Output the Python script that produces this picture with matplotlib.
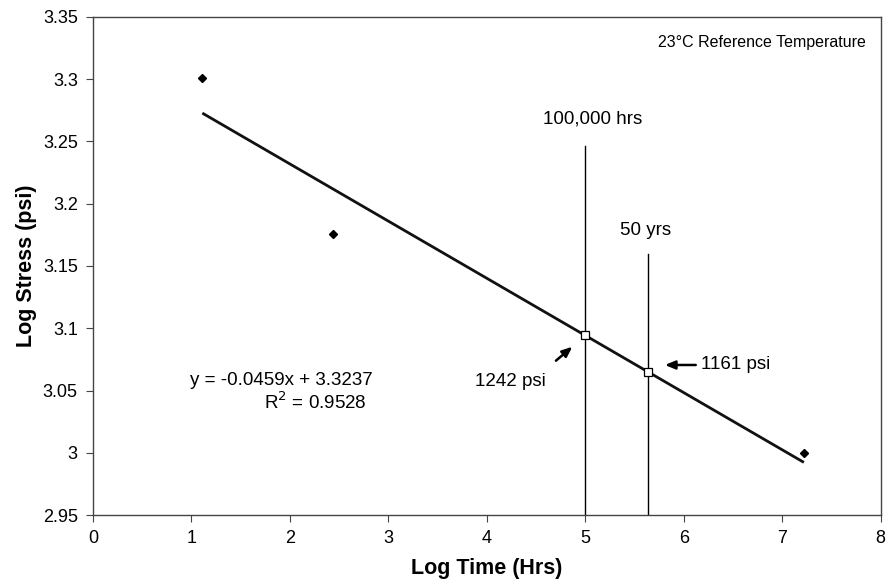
import numpy as np
import matplotlib
matplotlib.use("Agg")
import matplotlib.pyplot as plt

plt.rcParams['font.family'] = ['Liberation Sans', 'DejaVu Sans']

# measured points (log time, log stress)
log_time = [1.11, 2.44, 7.22]
log_stress = [3.301, 3.176, 3.0]

# trendline from the chart label
slope = -0.0459
intercept = 3.3237

# design points
design_x = [5.0, 5.6415]
design_y = [3.0942, 3.0648]
design_labels = ['1242 psi', '1161 psi']
line_tops = [3.246, 3.160]
line_labels = ['100,000 hrs', '50 yrs']

xticks = [0, 1, 2, 3, 4, 5, 6, 7, 8]
yticks = [2.95, 3.0, 3.05, 3.1, 3.15, 3.2, 3.25, 3.3, 3.35]
ytick_labels = ['2.95', '3', '3.05', '3.1', '3.15', '3.2', '3.25', '3.3', '3.35']

fig = plt.figure(figsize=(8.86, 5.82), dpi=100)
ax = fig.add_axes([0.105, 0.115, 0.889, 0.856])

# vertical marker lines
for x, top in zip(design_x, line_tops):
    ax.plot([x, x], [2.95, top], color='black', lw=1.0)
ax.text(5.07, 3.2677, line_labels[0], ha='center', va='center', fontsize=13.5)
ax.text(5.61, 3.1784, line_labels[1], ha='center', va='center', fontsize=13.5)

# trendline
tx = np.array([min(log_time), max(log_time)])
ax.plot(tx, slope * tx + intercept, color='#111111', lw=2.0, solid_capstyle='butt')

# data
ax.plot(log_time, log_stress, 'D', color='black', ms=4.5, ls='none')
ax.plot(design_x, design_y, 's', mfc='white', mec='black', mew=0.9, ms=5.5, ls='none')

# arrows
ax.annotate('', xy=(4.89, 3.0866), xytext=(4.68, 3.0725),
            arrowprops=dict(arrowstyle='-|>,head_length=0.6,head_width=0.25', color='black', lw=1.8))
ax.text(4.6, 3.0575, design_labels[0], ha='right', va='center', fontsize=13.5)
ax.annotate('', xy=(5.78, 3.0705), xytext=(6.15, 3.0705),
            arrowprops=dict(arrowstyle='-|>,head_length=0.6,head_width=0.25', color='black', lw=1.8))
ax.text(6.18, 3.0712, design_labels[1], ha='left', va='center', fontsize=13.5)

# equation
ax.text(2.84, 3.0583, 'y = -0.0459x + 3.3237', ha='right', va='center', fontsize=13.5)
ax.text(2.78, 3.0405, r'R$^2$ = 0.9528', ha='right', va='center', fontsize=13.5)

ax.text(7.85, 3.3295, '23°C Reference Temperature', ha='right', va='center', fontsize=11.5)

ax.set_xlim(0, 8)
ax.set_ylim(2.95, 3.35)
ax.set_xticks(xticks)
ax.set_yticks(yticks)
ax.set_yticklabels(ytick_labels)
ax.tick_params(direction='out', length=5, pad=6, labelsize=13, color='#444444')
for s in ax.spines.values():
    s.set_color('#444444')
    s.set_linewidth(1.0)
ax.set_xlabel('Log Time (Hrs)', fontsize=15.5, fontweight='bold', labelpad=8)
ax.set_ylabel('Log Stress (psi)', fontsize=15.5, fontweight='bold', labelpad=4)

fig.savefig('out.png', dpi=100)
